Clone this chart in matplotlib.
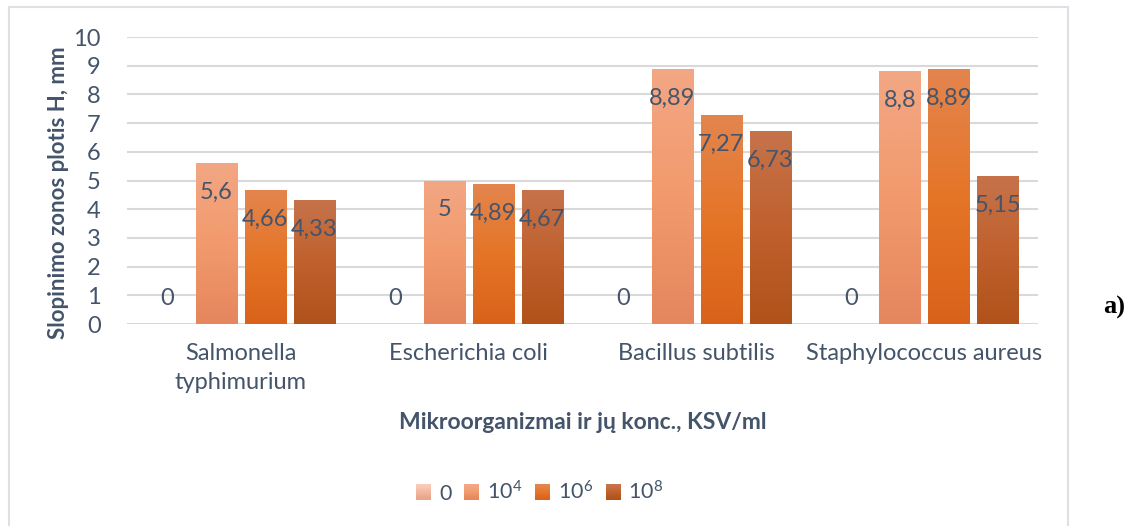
import numpy as np
import matplotlib.pyplot as plt
from matplotlib.colors import LinearSegmentedColormap
from matplotlib.patches import Rectangle
from matplotlib.legend_handler import HandlerBase

plt.rcParams['font.family'] = ['Lato', 'DejaVu Sans']

categories = ['Salmonella\ntyphimurium', 'Escherichia coli', 'Bacillus subtilis', 'Staphylococcus aureus']
series_names = ['0', r'$\mathregular{10^4}$', r'$\mathregular{10^6}$', r'$\mathregular{10^8}$']
conc_0 = [0, 0, 0, 0]
conc_1e4 = [5.6, 5, 8.89, 8.8]
conc_1e6 = [4.66, 4.89, 7.27, 8.89]
conc_1e8 = [4.33, 4.67, 6.73, 5.15]
series = [conc_0, conc_1e4, conc_1e6, conc_1e8]

# top / middle / bottom colour of each series' vertical gradient
grad_colors = [
    ['#F9CBB9', '#F3B7A0', '#E6A48A'],
    ['#F2A784', '#F29A6D', '#E5865E'],
    ['#E3854F', '#E57527', '#D9621A'],
    ['#C6734B', '#C0612E', '#B0521A'],
]
cmaps = [LinearSegmentedColormap.from_list('g%d' % i, c[::-1]) for i, c in enumerate(grad_colors)]

text_col = '#44546A'
grid_col = '#D9D9D9'
fs = 17

fig = plt.figure(figsize=(11.32, 5.26), dpi=100)
ax = fig.add_axes([0.1122, 0.384, 0.805, 0.5456])

# outer chart frame
fig.patches.append(Rectangle((9 / 1132, -0.05), 1059 / 1132, 1.05 - 7 / 526,
                             transform=fig.transFigure, fill=False,
                             edgecolor='#DDE1E6', linewidth=1.5))

x = np.arange(len(categories))
width = 0.18
step = 0.215
grad = np.linspace(0, 1, 256).reshape(-1, 1)

for i, vals in enumerate(series):
    bars = ax.bar(x + (i - 1.5) * step, vals, width, color='none', zorder=2)
    for bar, v in zip(bars, vals):
        x0 = bar.get_x()
        if v > 0:
            im = ax.imshow(grad, cmap=cmaps[i], origin='lower', aspect='auto',
                           extent=(x0, x0 + bar.get_width(), 0, v), zorder=2)
            im.set_clip_path(bar)
            off = -21
        else:
            off = 18.5
        ax.annotate(f'{v:g}'.replace('.', ','), (x0 + bar.get_width() / 2, v),
                    xytext=(0, off), textcoords='offset points',
                    ha='center', va='center', fontsize=fs, color=text_col, zorder=3)

ax.set_xlim(-0.5, 3.5)
ax.set_ylim(0, 10)
ax.set_yticks(range(0, 11))
ax.set_xticks(x)
ax.set_xticklabels(categories, fontsize=fs, color=text_col, linespacing=1.45)
ax.tick_params(axis='y', length=0, pad=19, labelsize=fs, labelcolor=text_col)
ax.tick_params(axis='x', length=0, pad=14)
ax.grid(axis='y', color=grid_col, linewidth=1.5, zorder=0)
ax.set_axisbelow(True)
for s in ax.spines.values():
    s.set_visible(False)

ax.set_ylabel('Slopinimo zonos plotis H, mm', fontsize=16, fontweight='bold',
              color=text_col, va='center')
ax.yaxis.set_label_coords(-0.0757, 0.456)
ax.set_xlabel('Mikroorganizmai ir jų konc., KSV/ml', fontsize=16.5, fontweight='bold',
              color=text_col, va='center')
ax.xaxis.set_label_coords(0.5, -0.3415)


class GradientHandler(HandlerBase):
    def __init__(self, cmap):
        super().__init__()
        self.cmap = cmap

    def create_artists(self, legend, orig_handle, xdescent, ydescent, width, height,
                       fontsize, trans):
        n = 14
        arts = []
        for k in range(n):
            r = Rectangle((-xdescent, -ydescent + height * k / n), width, height / n + 0.2,
                          facecolor=self.cmap(k / (n - 1)), edgecolor='none', transform=trans)
            arts.append(r)
        return arts


handles = [Rectangle((0, 0), 1, 1) for _ in series]
fig.legend(handles, series_names, loc='center', bbox_to_anchor=(540 / 1132, 1 - 492 / 526),
           ncol=4, frameon=False, fontsize=15.5, labelcolor=text_col,
           handlelength=0.7, handleheight=0.7, handletextpad=0.35, columnspacing=0.6,
           handler_map={h: GradientHandler(c) for h, c in zip(handles, cmaps)})

fig.text(1114 / 1132, 1 - 307 / 526, 'a)', fontsize=19, fontweight='bold',
         family='Liberation Serif', ha='center', va='center', color='black')

fig.savefig('out.png', dpi=100)
